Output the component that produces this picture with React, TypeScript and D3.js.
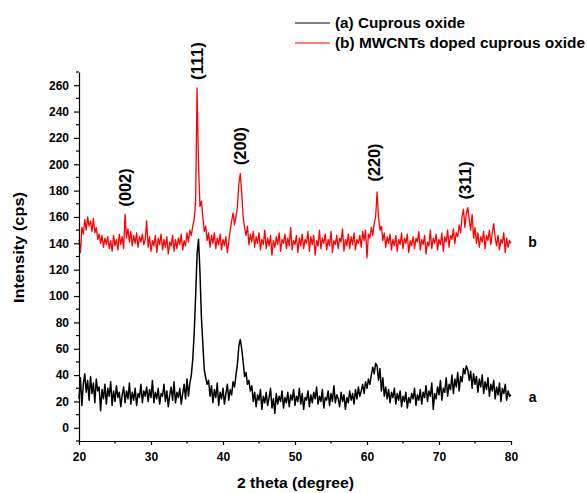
import { useRef, useEffect } from "react";
import * as d3 from "d3";

// XRD scans, one reading every 0.2 degree from 20 to 80 (2 theta)
const thetaStart = 20;
const thetaStep = 0.2;

// (a) Cuprous oxide
const cuprousOxide = [
  22, 38, 17, 33, 41, 27, 36, 21, 39, 26,
  34, 19, 37, 28, 31, 13, 29, 22, 33, 18,
  30, 24, 35, 17, 28, 20, 32, 23, 27, 16,
  25, 31, 19, 28, 22, 34, 18, 27, 21, 30,
  17, 26, 23, 33, 19, 28, 24, 31, 20, 29,
  23, 36, 19, 27, 22, 30, 18, 26, 24, 33,
  20, 28, 16, 25, 31, 21, 35, 19, 27, 23,
  30, 18, 26, 33, 22, 37, 24, 34, 40, 52,
  72, 100, 132, 143, 118, 84, 64, 44, 38, 33,
  36, 24, 32, 19, 29, 23, 34, 17, 27, 22,
  30, 18, 26, 33, 21, 29, 25, 35, 31, 40,
  48, 62, 67, 60, 50, 39, 42, 33, 36, 28,
  32, 20, 27, 16, 25, 21, 29, 14, 24, 19,
  27, 17, 23, 30, 15, 22, 11, 26, 18, 24,
  20, 28, 15, 23, 19, 27, 16, 25, 21, 29,
  17, 24, 20, 30, 18, 26, 14, 23, 21, 28,
  16, 25, 19, 27, 22, 31, 18, 24, 20, 29,
  15, 23, 21, 28, 17, 26, 20, 32, 19, 25,
  22, 16, 27, 20, 25, 14, 23, 19, 28, 21,
  26, 18, 29, 22, 31, 24, 28, 33, 26, 35,
  30, 37, 33, 40, 46, 41, 49, 47, 36, 45,
  28, 38, 24, 31, 22, 29, 19, 27, 23, 30,
  18, 26, 21, 28, 16, 24, 20, 27, 15, 23,
  19, 26, 22, 30, 17, 25, 21, 29, 18, 27,
  23, 32, 20, 28, 24, 34, 14, 26, 22, 31,
  25, 36, 21, 30, 27, 38, 24, 33, 29, 40,
  26, 37, 31, 42, 28, 39, 35, 45, 41, 47,
  44, 36, 43, 30, 41, 33, 39, 27, 37, 31,
  40, 26, 35, 29, 38, 24, 33, 28, 36, 22,
  31, 25, 34, 20, 30, 26, 33, 21, 28, 24,
  25,
];

// (b) MWCNTs doped cuprous oxide
const mwcntDoped = [
  143, 133, 152, 147, 158, 150, 160, 153, 157, 149,
  159, 148, 152, 143, 147, 140, 146, 137, 144, 139,
  145, 136, 142, 134, 146, 138, 143, 135, 147, 139,
  145, 136, 162, 144, 151, 141, 149, 138, 146, 140,
  148, 137, 145, 141, 147, 139, 143, 157, 137, 145,
  134, 142, 138, 146, 133, 144, 139, 147, 135, 143,
  137, 145, 132, 141, 138, 146, 134, 143, 136, 144,
  139, 147, 135, 142, 138, 148, 141, 150, 146, 153,
  158, 172, 258, 200, 168, 172, 160, 149, 153, 142,
  148, 137, 146, 140, 148, 136, 144, 139, 147, 135,
  143, 138, 145, 133, 141, 150, 157, 163, 154, 160,
  168, 185, 193, 178, 160, 152, 146, 153, 139, 147,
  141, 149, 137, 145, 140, 148, 135, 143, 139, 150,
  136, 144, 138, 146, 131, 142, 137, 145, 139, 148,
  134, 143, 140, 147, 136, 144, 138, 152, 135, 142,
  139, 146, 133, 144, 138, 147, 136, 143, 140, 149,
  134, 145, 139, 146, 131, 142, 138, 150, 136, 144,
  140, 147, 135, 143, 138, 149, 133, 142, 139, 146,
  136, 144, 141, 151, 134, 143, 138, 147, 136, 145,
  139, 148, 135, 143, 140, 146, 137, 149, 142, 150,
  129, 147, 144, 152, 146, 155, 160, 179, 160, 150,
  153, 142, 148, 137, 145, 140, 147, 135, 143, 138,
  146, 134, 143, 139, 148, 136, 144, 140, 147, 133,
  142, 138, 145, 136, 144, 141, 149, 135, 143, 139,
  146, 132, 141, 138, 150, 136, 144, 140, 147, 135,
  143, 139, 148, 134, 145, 141, 150, 137, 146, 143,
  151, 140, 148, 145, 154, 148, 160, 166, 152, 163,
  167, 158, 150, 162, 144, 152, 140, 148, 137, 145,
  141, 149, 136, 146, 142, 150, 139, 148, 155, 144,
  138, 146, 135, 143, 140, 148, 133, 144, 137, 142,
  140,
];

const xTicks = [20, 30, 40, 50, 60, 70, 80];
const xMinorTicks = [25, 35, 45, 55, 65, 75];
const yTicks = [0, 20, 40, 60, 80, 100, 120, 140, 160, 180, 200, 220, 240, 260];
const yMinorTicks = [-10, 10, 30, 50, 70, 90, 110, 130, 150, 170, 190, 210, 230, 250, 270];

// reflection labels, anchored in data units (2 theta, intensity)
const hklNames = ["(002)", "(111)", "(200)", "(220)", "(311)"];
const hklTheta = [26.4, 36.4, 42.36, 60.97, 73.7];
const hklIntensity = [182.4, 278.3, 213.8, 201.3, 187.7];

const seriesNames = ["(a) Cuprous oxide", "(b) MWCNTs doped cuprous oxide"];
const seriesTags = ["a", "b"];
const tagIntensity = [23.4, 141];
const seriesColors = ["#000000", "#ff0000"];

const FONT = "'Liberation Sans', Arial, Helvetica, sans-serif";

const XrdChart = () => {
  const svgRef = useRef(null);

  useEffect(() => {
    const svg = d3.select(svgRef.current);
    svg.selectAll("*").remove();

    const width = 587;
    const height = 493;
    const margin = { top: 72, right: 76, bottom: 52, left: 79 };

    const x = d3
      .scaleLinear()
      .domain([20, 80])
      .range([margin.left, width - margin.right]);

    const y = d3
      .scaleLinear()
      .domain([-10, 270])
      .range([height - margin.bottom, margin.top]);

    const toPoints = (vals) =>
      vals.map((v, i) => ({ theta: thetaStart + i * thetaStep, value: v }));

    const line = d3
      .line()
      .x((d) => x(d.theta))
      .y((d) => y(d.value));

    // series: black first, red on top
    [cuprousOxide, mwcntDoped].forEach((vals, i) => {
      svg
        .append("path")
        .datum(toPoints(vals))
        .attr("fill", "none")
        .attr("stroke", seriesColors[i])
        .attr("stroke-width", i === 0 ? 1.5 : 1.3)
        .attr("stroke-linejoin", "round")
        .attr("d", line);
    });

    // axes
    const xAxis = svg
      .append("g")
      .attr("transform", `translate(0,${height - margin.bottom})`)
      .call(
        d3
          .axisBottom(x)
          .tickValues(xTicks)
          .tickSize(4)
          .tickSizeOuter(0)
          .tickPadding(7)
      );
    xAxis
      .append("g")
      .selectAll("line")
      .data(xMinorTicks)
      .join("line")
      .attr("x1", (d) => x(d))
      .attr("x2", (d) => x(d))
      .attr("y1", 0)
      .attr("y2", 2.5)
      .attr("stroke", "#000");

    const yAxis = svg
      .append("g")
      .attr("transform", `translate(${margin.left},0)`)
      .call(
        d3
          .axisLeft(y)
          .tickValues(yTicks)
          .tickSize(5)
          .tickSizeOuter(0)
          .tickPadding(5)
      );
    yAxis
      .append("g")
      .selectAll("line")
      .data(yMinorTicks)
      .join("line")
      .attr("y1", (d) => y(d))
      .attr("y2", (d) => y(d))
      .attr("x1", 0)
      .attr("x2", -3)
      .attr("stroke", "#000");

    [xAxis, yAxis].forEach((g) => {
      g.selectAll("path, line").attr("stroke", "#000").attr("stroke-width", 1.2);
      g.selectAll("text")
        .attr("fill", "#000")
        .style("font-family", FONT)
        .style("font-size", "12px")
        .style("font-weight", "bold");
    });

    // axis titles
    svg
      .append("text")
      .attr("x", 295.5)
      .attr("y", 488)
      .attr("text-anchor", "middle")
      .attr("textLength", 117)
      .attr("lengthAdjust", "spacingAndGlyphs")
      .style("font-family", FONT)
      .style("font-size", "14px")
      .style("font-weight", "bold")
      .text("2 theta (degree)");

    svg
      .append("text")
      .attr("transform", "translate(19,247.5) rotate(-90)")
      .attr("dy", "0.35em")
      .attr("text-anchor", "middle")
      .attr("textLength", 111)
      .attr("lengthAdjust", "spacingAndGlyphs")
      .style("font-family", FONT)
      .style("font-size", "14px")
      .style("font-weight", "bold")
      .text("Intensity (cps)");

    // peak labels
    svg
      .append("g")
      .selectAll("text")
      .data(hklNames)
      .join("text")
      .attr(
        "transform",
        (d, i) => `translate(${x(hklTheta[i])},${y(hklIntensity[i])}) rotate(-90)`
      )
      .attr("dy", "0.35em")
      .attr("text-anchor", "middle")
      .attr("textLength", 38)
      .attr("lengthAdjust", "spacingAndGlyphs")
      .style("font-family", FONT)
      .style("font-size", "16px")
      .style("font-weight", "bold")
      .text((d) => d);

    // series tags at the right
    svg
      .append("g")
      .selectAll("text")
      .data(seriesTags)
      .join("text")
      .attr("x", x(83))
      .attr("y", (d, i) => y(tagIntensity[i]))
      .attr("dy", "0.35em")
      .attr("text-anchor", "middle")
      .style("font-family", FONT)
      .style("font-size", "14px")
      .style("font-weight", "bold")
      .text((d) => d);

    // legend
    const legend = svg.append("g");
    const legendWidths = [130, 250];
    seriesNames.forEach((name, i) => {
      const ly = 23 + i * 20;
      legend
        .append("line")
        .attr("x1", 295)
        .attr("x2", 330)
        .attr("y1", ly)
        .attr("y2", ly)
        .attr("stroke", seriesColors[i])
        .attr("stroke-width", 1);
      legend
        .append("text")
        .attr("x", 335)
        .attr("y", ly)
        .attr("dy", "0.35em")
        .attr("textLength", legendWidths[i])
        .attr("lengthAdjust", "spacingAndGlyphs")
        .style("font-family", FONT)
        .style("font-size", "14px")
        .style("font-weight", "bold")
        .text(name);
    });
  }, []);

  return (
    <div style={{ position: "absolute", left: 0, top: 0 }}>
      <svg ref={svgRef} width="587" height="493" style={{ display: "block", background: "#fff" }} />
    </div>
  );
};

export default function App() {
  return <XrdChart />;
}
